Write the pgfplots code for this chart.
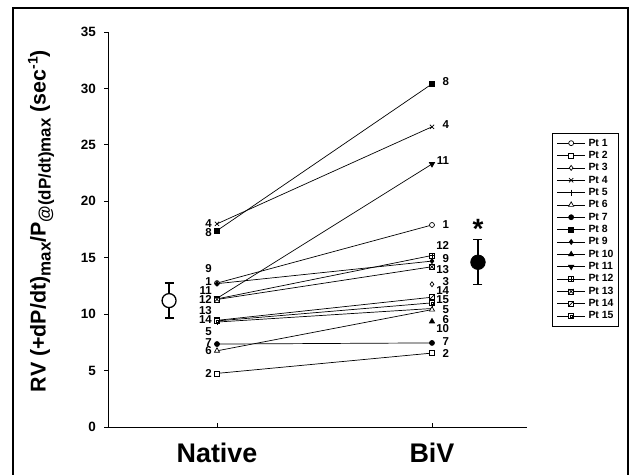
\documentclass[border=0pt]{standalone}
\usepackage{fontspec}
\setmainfont{Liberation Sans}
\usepackage{pgfplots}
\pgfplotsset{compat=1.18}

\pgfdeclareplotmark{sqplus}{%
  \pgfpathrectangle{\pgfqpoint{-\pgfplotmarksize}{-\pgfplotmarksize}}{\pgfqpoint{2\pgfplotmarksize}{2\pgfplotmarksize}}%
  \pgfusepathqfillstroke
  \pgfpathmoveto{\pgfqpoint{-\pgfplotmarksize}{0pt}}\pgfpathlineto{\pgfqpoint{\pgfplotmarksize}{0pt}}%
  \pgfpathmoveto{\pgfqpoint{0pt}{-\pgfplotmarksize}}\pgfpathlineto{\pgfqpoint{0pt}{\pgfplotmarksize}}%
  \pgfusepathqstroke}
\pgfdeclareplotmark{sqx}{%
  \pgfpathrectangle{\pgfqpoint{-\pgfplotmarksize}{-\pgfplotmarksize}}{\pgfqpoint{2\pgfplotmarksize}{2\pgfplotmarksize}}%
  \pgfusepathqfillstroke
  \pgfpathmoveto{\pgfqpoint{-\pgfplotmarksize}{-\pgfplotmarksize}}\pgfpathlineto{\pgfqpoint{\pgfplotmarksize}{\pgfplotmarksize}}%
  \pgfpathmoveto{\pgfqpoint{-\pgfplotmarksize}{\pgfplotmarksize}}\pgfpathlineto{\pgfqpoint{\pgfplotmarksize}{-\pgfplotmarksize}}%
  \pgfusepathqstroke}
\pgfdeclareplotmark{sqdiag}{%
  \pgfpathrectangle{\pgfqpoint{-\pgfplotmarksize}{-\pgfplotmarksize}}{\pgfqpoint{2\pgfplotmarksize}{2\pgfplotmarksize}}%
  \pgfusepathqfillstroke
  \pgfpathmoveto{\pgfqpoint{-\pgfplotmarksize}{-\pgfplotmarksize}}\pgfpathlineto{\pgfqpoint{\pgfplotmarksize}{\pgfplotmarksize}}%
  \pgfusepathqstroke}
\pgfdeclareplotmark{sqin}{%
  \pgfpathrectangle{\pgfqpoint{-\pgfplotmarksize}{-\pgfplotmarksize}}{\pgfqpoint{2\pgfplotmarksize}{2\pgfplotmarksize}}%
  \pgfusepathqfillstroke
  \pgfpathrectangle{\pgfqpoint{-0.4\pgfplotmarksize}{-0.4\pgfplotmarksize}}{\pgfqpoint{0.8\pgfplotmarksize}{0.8\pgfplotmarksize}}%
  \pgfusepathqstroke}

\begin{document}
\begin{tikzpicture}
\useasboundingbox (0bp,0bp) rectangle (637bp,475bp);
\draw[line width=2bp] (12.5bp,-5bp) -- (12.5bp,466.5bp) -- (628bp,466.5bp) -- (628bp,-5bp);
\node[rotate=90, inner sep=0bp, font=\bfseries\fontsize{21.5}{23}\selectfont] at (41bp,254bp)
  {RV (+dP/dt)\raisebox{-5bp}{\fontsize{17}{17}\selectfont max}/P\raisebox{-5bp}{\fontsize{17}{17}\selectfont @(dP/dt)max} (sec\raisebox{8bp}{\fontsize{14}{14}\selectfont -1})};
\begin{axis}[
  at={(108bp,48bp)}, anchor=south west, scale only axis,
  width=419bp, height=395bp,
  xmin=-0.507, xmax=1.442, ymin=0, ymax=35,
  axis x line*=bottom, axis y line*=left,
  axis line style={line width=0.8bp, black},
  xtick={0,1}, xticklabels={Native,BiV},
  ytick={0,5,10,15,20,25,30,35},
  tick align=outside, major tick length=4bp,
  tick style={line width=0.8bp, black},
  xtick style={yshift=4bp},
  /pgf/number format/assume math mode=true,
  yticklabel style={font=\bfseries\fontsize{13.5}{14}\selectfont, inner sep=0bp, xshift=-8bp},
  xticklabel style={font=\bfseries\fontsize{27}{30}\selectfont, inner sep=0bp, yshift=-12bp},
  clip=false,
  legend style={at={(axis description cs:1.0597,0.7443)}, anchor=north west, draw=black, line width=0.6bp,
    font=\bfseries\fontsize{10.5}{11}\selectfont, inner xsep=4.5bp, inner ysep=4.5bp, row sep=1.6bp,
    nodes={inner xsep=0.5bp, inner ysep=1bp},
    /tikz/every odd column/.append style={column sep=2.5bp}},
  legend cell align=left,
  legend image code/.code={\draw[mark repeat=2, mark phase=2, #1] plot coordinates {(0bp,0bp)(14bp,0bp)(28bp,0bp)};},
  every axis plot/.append style={black, line width=0.7bp, mark size=2.5bp},
]
\addplot[mark=*, mark options={fill=white}] coordinates {(0,12.75) (1,17.9)};
\addlegendentry{Pt 1}
\addplot[mark=square*, mark options={fill=white}] coordinates {(0,4.75) (1,6.55)};
\addlegendentry{Pt 2}
\addplot[mark=diamond*, mark options={fill=white}] coordinates {(1,12.65)};
\addlegendentry{Pt 3}
\addplot[mark=x, mark size=3bp] coordinates {(0,18.0) (1,26.6)};
\addlegendentry{Pt 4}
\addplot[mark=|, mark size=3bp] coordinates {(0,9.3) (1,10.5)};
\addlegendentry{Pt 5}
\addplot[mark=triangle*, mark size=3bp, mark options={fill=white}] coordinates {(0,6.75) (1,10.4)};
\addlegendentry{Pt 6}
\addplot[mark=*] coordinates {(0,7.35) (1,7.45)};
\addlegendentry{Pt 7}
\addplot[mark=square*] coordinates {(0,17.4) (1,30.4)};
\addlegendentry{Pt 8}
\addplot[mark=diamond*] coordinates {(0,12.7) (1,14.7)};
\addlegendentry{Pt 9}
\addplot[mark=triangle*, mark size=3bp] coordinates {(1,9.35)};
\addlegendentry{Pt 10}
\addplot[mark=triangle*, mark size=3bp, mark options={rotate=180}] coordinates {(0,11.4) (1,23.3)};
\addlegendentry{Pt 11}
\addplot[mark=sqplus, mark options={fill=white}] coordinates {(0,11.35) (1,15.2)};
\addlegendentry{Pt 12}
\addplot[mark=sqx, mark options={fill=white}] coordinates {(0,11.3) (1,14.2)};
\addlegendentry{Pt 13}
\addplot[mark=sqdiag, mark options={fill=white}] coordinates {(0,9.45) (1,11.5)};
\addlegendentry{Pt 14}
\addplot[mark=sqin, mark options={fill=white}] coordinates {(0,9.4) (1,11.0)};
\addlegendentry{Pt 15}

% group means with error bars
\addplot[forget plot, only marks, mark=none, error bars/.cd, y dir=both, y explicit,
  error bar style={line width=1.3bp, black}, error mark options={rotate=90, mark size=4.5bp, line width=1.3bp, black}]
  coordinates {(-0.223,11.2) +- (0,1.55) (1.214,14.6) +- (0,2.0)};
\addplot[forget plot, only marks, mark=*, mark size=7bp, mark options={fill=white, line width=1.3bp}] coordinates {(-0.223,11.2)};
\addplot[forget plot, only marks, mark=*, mark size=7.3bp, mark options={fill=black}] coordinates {(1.214,14.6)};

\node[anchor=base, inner sep=0bp, font=\bfseries\fontsize{28}{28}\selectfont] at (axis cs:1.214,16.68) {*};

% point labels, Native
\begin{scope}[every node/.style={anchor=east, inner sep=0bp, font=\bfseries\fontsize{11.5}{12}\selectfont}]
\node at (axis cs:-0.023,17.99) {4};
\node at (axis cs:-0.023,17.19) {8};
\node at (axis cs:-0.023,14.0) {9};
\node at (axis cs:-0.023,12.85) {1};
\node at (axis cs:-0.023,12.05) {11};
\node at (axis cs:-0.023,11.3) {12};
\node at (axis cs:-0.023,10.28) {13};
\node at (axis cs:-0.023,9.48) {14};
\node at (axis cs:-0.023,8.42) {5};
\node at (axis cs:-0.023,7.44) {7};
\node at (axis cs:-0.023,6.73) {6};
\node at (axis cs:-0.023,4.70) {2};
% BiV
\node at (axis cs:1.0805,30.6) {8};
\node at (axis cs:1.0805,26.76) {4};
\node at (axis cs:1.0805,23.6) {11};
\node at (axis cs:1.0805,17.9) {1};
\node at (axis cs:1.0805,16.04) {12};
\node at (axis cs:1.0805,14.95) {9};
\node at (axis cs:1.0805,13.91) {13};
\node at (axis cs:1.0805,12.88) {3};
\node at (axis cs:1.0805,12.08) {14};
\node at (axis cs:1.0805,11.25) {15};
\node at (axis cs:1.0805,10.43) {5};
\node at (axis cs:1.0805,9.54) {6};
\node at (axis cs:1.0805,8.74) {10};
\node at (axis cs:1.0805,7.53) {7};
\node at (axis cs:1.0805,6.47) {2};
\end{scope}
\end{axis}
\end{tikzpicture}
\end{document}
